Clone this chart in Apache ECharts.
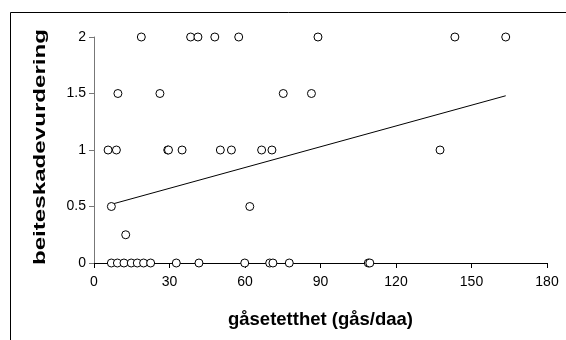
<!DOCTYPE html>
<html><head><meta charset="utf-8">
<script src="https://cdn.jsdelivr.net/npm/echarts@6/dist/echarts.min.js"></script>
<style>html,body{margin:0;padding:0;background:#fff}#c{width:566px;height:340px}</style>
</head><body><div id="c"></div><script>
// Observations: x = goose density, y = damage score
const xLevel2   = [18.8, 38.4, 41.3, 48.0, 57.5, 89.0, 143.4, 163.6];
const xLevel15  = [9.5, 26.2, 75.2, 86.4];
const xLevel1   = [5.6, 8.9, 29.3, 29.6, 35.0, 50.2, 54.6, 66.6, 70.7, 137.5];
const xLevel05  = [6.9, 61.9];
const xLevel025 = [12.6];
const xLevel0   = [6.9, 9.3, 11.9, 14.8, 17.2, 19.7, 22.5, 32.7, 41.7, 59.9, 69.8, 71.1, 77.6, 109.0, 109.6];
const levels = [2, 1.5, 1, 0.5, 0.25, 0];
const groups = [xLevel2, xLevel15, xLevel1, xLevel05, xLevel025, xLevel0];
// Trend line end points
const trendX = [7.0, 163.6];
const trendY = [0.52, 1.48];
const xTickValues = [0, 30, 60, 90, 120, 150, 180];
const yTickValues = [0, 0.5, 1, 1.5, 2];
const xTitle = 'gåsetetthet (gås/daa)';
const yTitle = 'beiteskadevurdering';

const points = [];
groups.forEach((g, i) => g.forEach(x => points.push([x, levels[i]])));
const trend = trendX.map((x, i) => [x, trendY[i]]);

const font = "'Liberation Sans', Arial, sans-serif";
const chart = echarts.init(document.getElementById('c'), null, {renderer: 'canvas'});
chart.setOption({
  animation: false,
  backgroundColor: '#fff',
  graphic: [{
    type: 'rect', silent: true, z: -1,
    shape: {x: 10.5, y: 12.5, width: 700, height: 500},
    style: {fill: 'none', stroke: '#000', lineWidth: 1}
  }, {
    type: 'text', silent: true,
    x: 40, y: 147, rotation: Math.PI / 2, scaleX: 1.42, scaleY: 1,
    style: {text: yTitle, fill: '#000', font: "bold 17px 'Liberation Sans', Arial, sans-serif",
            align: 'center', verticalAlign: 'middle'}
  }],
  grid: {left: 94, right: 19, top: 37, bottom: 77, containLabel: false},
  xAxis: {
    type: 'value', min: xTickValues[0], max: xTickValues[xTickValues.length - 1], interval: 30,
    name: xTitle, nameLocation: 'middle', nameGap: 47,
    nameTextStyle: {fontFamily: font, fontWeight: 'bold', fontSize: 18.5, color: '#000'},
    axisLine: {show: true, onZero: false, lineStyle: {color: '#000', width: 1}},
    axisTick: {show: true, length: 5, lineStyle: {color: '#000'}},
    axisLabel: {fontFamily: font, fontSize: 14, color: '#000', margin: 12},
    splitLine: {show: false}
  },
  yAxis: {
    type: 'value', min: yTickValues[0], max: yTickValues[yTickValues.length - 1], interval: 0.5,
    axisLine: {show: true, onZero: false, lineStyle: {color: '#777', width: 1}},
    axisTick: {show: true, length: 5, lineStyle: {color: '#777'}},
    axisLabel: {fontFamily: font, fontSize: 14, color: '#000', margin: 8},
    splitLine: {show: false}
  },
  series: [{
    type: 'line', data: trend, showSymbol: false, symbol: 'none',
    lineStyle: {color: '#000', width: 1}, z: 1, silent: true
  }, {
    type: 'scatter', data: points, symbol: 'circle', symbolSize: 8,
    itemStyle: {color: '#fff', borderColor: '#000', borderWidth: 1, opacity: 1}, z: 2
  }]
});
</script></body></html>
